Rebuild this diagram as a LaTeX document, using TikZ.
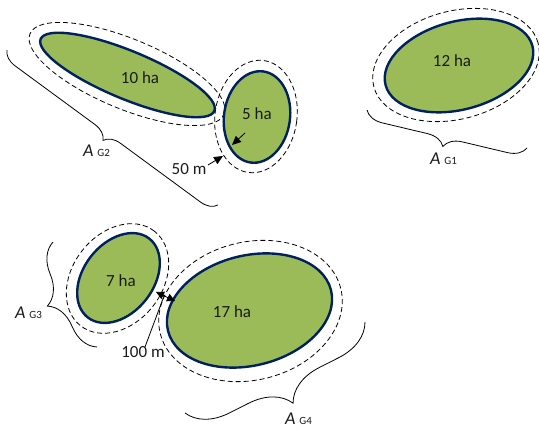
\documentclass[tikz,border=0pt]{standalone}
\usepackage{fontspec}
\setmainfont{Carlito}
\usetikzlibrary{decorations.pathreplacing,arrows.meta}
\definecolor{fieldgreen}{HTML}{9BBB59}
\definecolor{fieldnavy}{HTML}{002060}
\definecolor{txt}{HTML}{1A1A1A}
\newcommand{\agsub}[1]{\textit{A}\hspace{4pt}{\fontsize{11}{13}\selectfont #1}}
\begin{document}
\begin{tikzpicture}[x=1pt,y=1pt,
  field/.style={fill=fieldgreen,draw=fieldnavy,line width=2.4pt},
  buffer/.style={draw=black,line width=0.8pt,dash pattern=on 5pt off 3pt},
  ha/.style={font=\fontsize{17}{20}\selectfont,text=txt,anchor=base,inner sep=0pt},
  agl/.style={font=\fontsize{18}{20}\selectfont,text=txt,anchor=base,inner sep=0pt},
  bracket/.style={decorate,draw=black,line width=0.8pt},
  arr/.style={-{Triangle[length=9pt,width=8pt]},line width=0.8pt},
  darr/.style={{Triangle[length=8pt,width=8pt]}-{Triangle[length=8pt,width=8pt]},line width=0.8pt},
  leader/.style={draw=black,line width=0.8pt},
]
\useasboundingbox (0,0) rectangle (539,-430);

% buffers (dashed)
\draw[buffer,rotate around={-22.5:(127,-74)}] (127,-74) ellipse [x radius=105, y radius=35];
\draw[buffer,rotate around={-8:(256,-116.5)}] (256,-116.5) ellipse [x radius=41, y radius=56.5];
\draw[buffer,rotate around={15:(456,-65)}] (456,-65) ellipse [x radius=85, y radius=54];
\draw[buffer,rotate around={52:(117.5,-278.5)}] (117.5,-278.5) ellipse [x radius=60, y radius=45];
\draw[buffer,rotate around={14:(250.5,-311)}] (250.5,-311) ellipse [x radius=93, y radius=69];

% fields
\draw[field,rotate around={-22.5:(127.5,-75)}] (127.5,-75) ellipse [x radius=94, y radius=24];
\draw[field,rotate around={-8:(257,-117)}] (257,-117) ellipse [x radius=33, y radius=46];
\draw[field,rotate around={15:(459,-65.5)}] (459,-65.5) ellipse [x radius=76, y radius=44];
\draw[field,rotate around={52:(118.5,-278)}] (118.5,-278) ellipse [x radius=50, y radius=35];
\draw[field,rotate around={14:(249.5,-310.5)}] (249.5,-310.5) ellipse [x radius=84, y radius=55];

% area labels
\node[ha] (t10) at (140,-84) {10 ha};
\node[ha] (t5) at (257,-120) {5 ha};
\node[ha] (t12) at (452,-67) {12 ha};
\node[ha] (t7) at (121,-287) {7 ha};
\node[ha] (t17) at (232,-318) {17 ha};
\node[ha] (l50) at (189,-175) {50 m};
\node[ha] (l100) at (143,-358) {100 m};

% 50 m arrows
\coordinate (a1s) at (245,-133);
\coordinate (a1e) at (232,-145);
\coordinate (a2s) at (208,-165);
\coordinate (a2e) at (223,-156);
\draw[arr] (a1s) -- (a1e);
\draw[arr] (a2s) -- (a2e);

% 100 m arrows
\coordinate (d1) at (156,-292);
\coordinate (d2) at (175,-301);
\coordinate (ls) at (145,-347);
\coordinate (le) at (164,-296);
\draw[darr] (d1) -- (d2);
\draw[leader] (ls) -- (le);

% braces
\draw[bracket,decoration={brace,amplitude=16pt}] (218,-205) -- (7,-50);
\draw[bracket,decoration={brace,amplitude=18pt}] (527,-148) -- (367,-110);
\draw[bracket,decoration={brace,amplitude=30pt}] (97,-347) -- (53,-242);
\draw[bracket,decoration={brace,amplitude=40pt}] (365,-322) -- (185,-413);

\node[agl] (ag2) at (96.5,-157) {\agsub{G2}};
\node[agl] (ag1) at (443.5,-165) {\agsub{G1}};
\node[agl] (ag3) at (28.5,-319) {\agsub{G3}};
\node[agl] (ag4) at (298.5,-425) {\agsub{G4}};
\end{tikzpicture}
\end{document}
